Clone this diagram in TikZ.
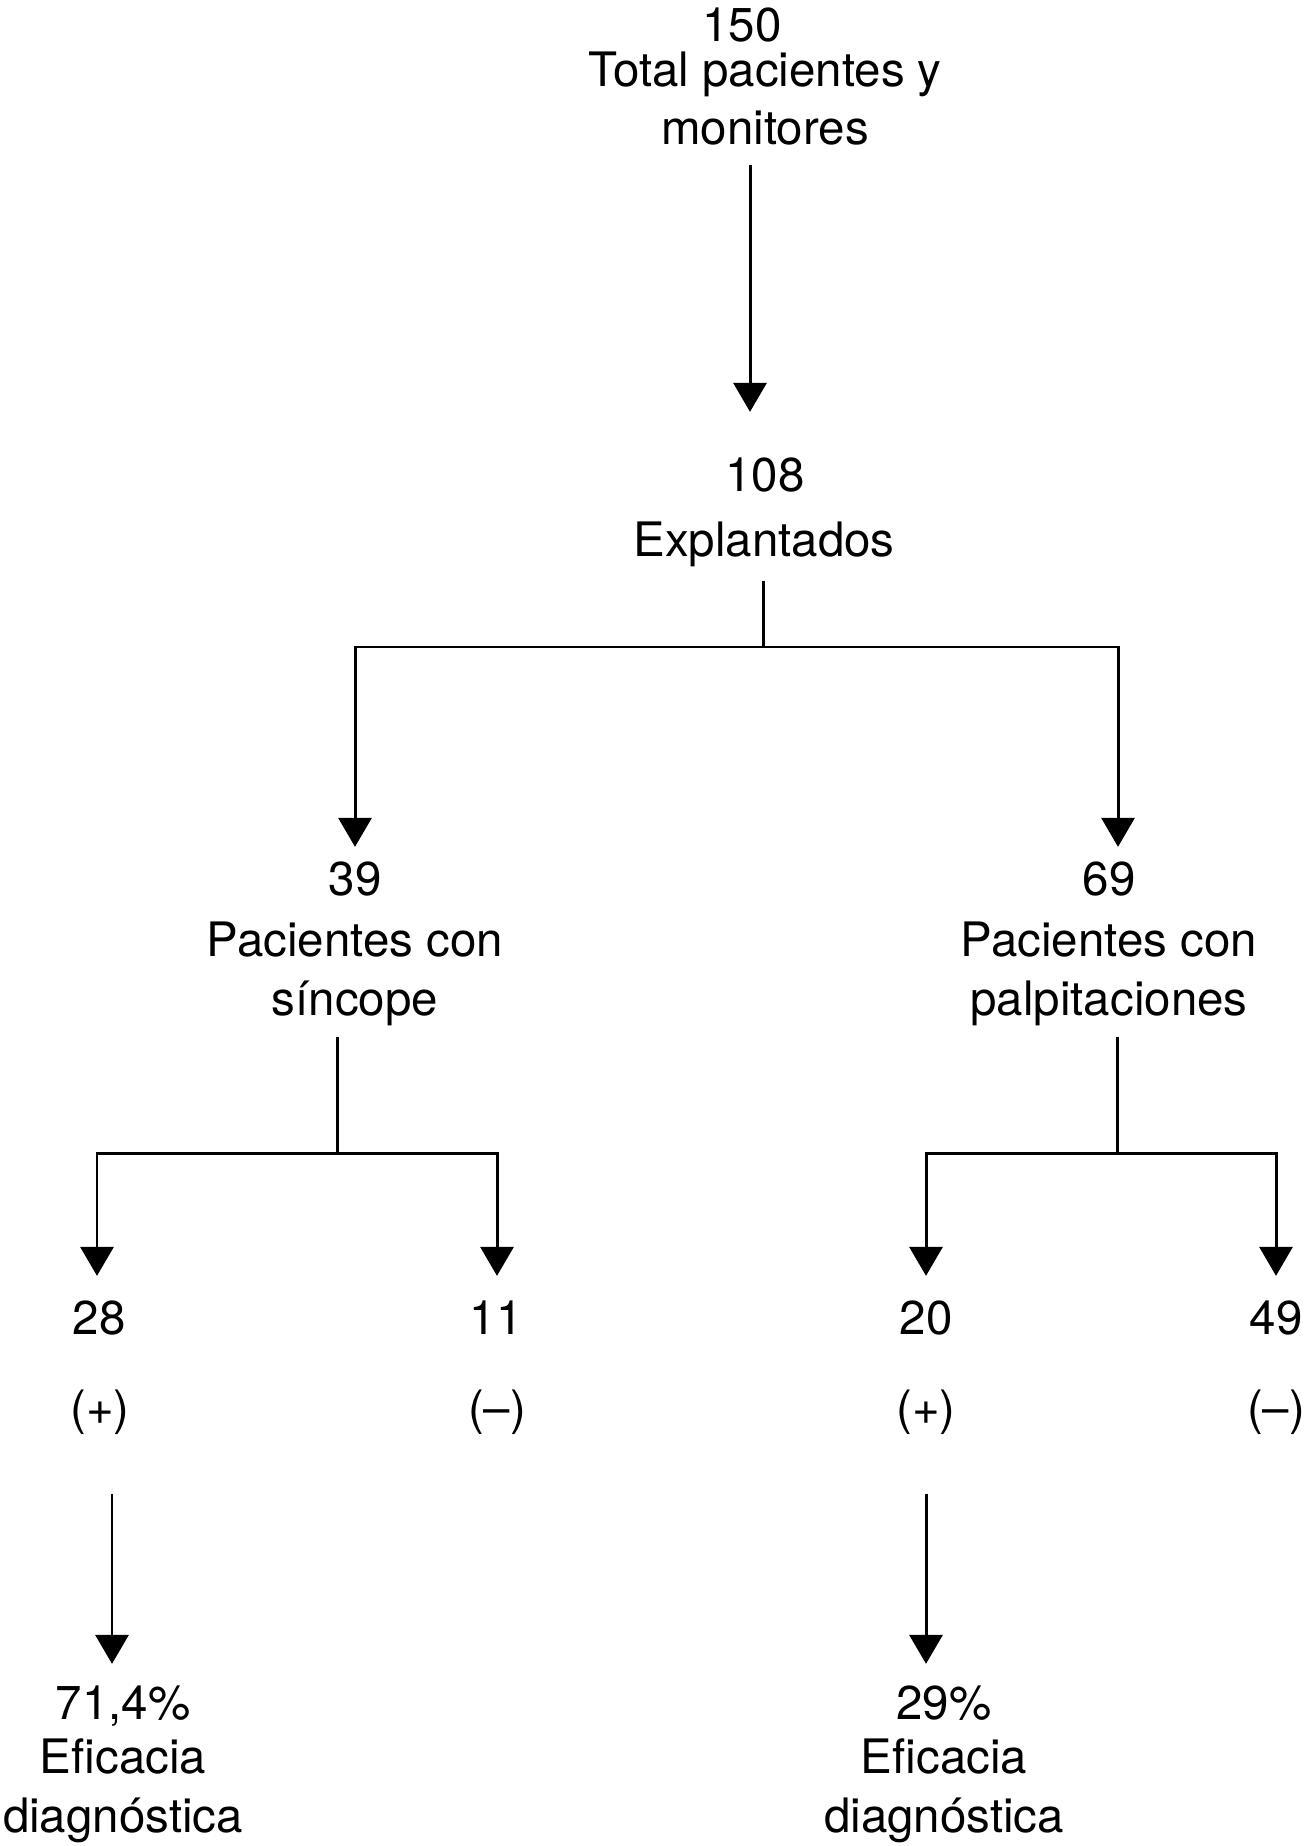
\documentclass[tikz,border=0pt]{standalone}
\usepackage{fontspec}
\setmainfont{TeX Gyre Heros}
\usetikzlibrary{arrows.meta,calc}
\begin{document}
\begin{tikzpicture}[x=0.01cm,y=-0.01cm,line width=0.85pt,
 >={Triangle[length=8.25pt,width=9.4pt]},
 txt/.style={inner sep=0pt,anchor=base,align=center,font=\fontsize{13.5}{16.5}\selectfont}]
 \useasboundingbox (0,0) rectangle (1306,1846);
 % numbers and labels (multi-line labels sit on their last line)
 \node[txt] (n150) at (742,42) {150};
 \node[txt] (tot) at (765,145) {Total pacientes y\\monitores};
 \node[txt] (n108) at (765,492) {108};
 \node[txt] (expl) at (764,557) {Explantados};
 \node[txt] (n39) at (355,895) {39};
 \node[txt] (sinc) at (355,1015) {Pacientes con\\síncope};
 \node[txt] (n69) at (1109,895) {69};
 \node[txt] (palp) at (1109,1015) {Pacientes con\\palpitaciones};
 \node[txt] (n28) at (99,1334) {28};
 \node[txt] (p28) at (100,1424) {(+)};
 \node[txt] (n11) at (496,1334) {11};
 \node[txt] (m11) at (497,1424) {(–)};
 \node[txt] (n20) at (926,1334) {20};
 \node[txt] (p20) at (926,1424) {(+)};
 \node[txt] (n49) at (1276,1334) {49};
 \node[txt] (m49) at (1276,1424) {(–)};
 \node[txt] (e28) at (123,1719) {71,4\%};
 \node[txt] (ef28) at (123,1832) {Eficacia\\diagnóstica};
 \node[txt] (e20) at (944,1719) {29\%};
 \node[txt] (ef20) at (944,1832) {Eficacia\\diagnóstica};
 % branch points
 \coordinate (j108) at (763,647);
 \coordinate (j39) at (337,1153);
 \coordinate (j69) at (1117,1153);
 % connectors
 \draw[->] ($(tot.south)+(-15,18)$) -- ($(n108.north)+(-15,-45)$);
 \draw ($(expl.south)+(-1,12)$) -- (j108);
 \draw[->] (j108) -| ($(n39.north)+(0,-13)$);
 \draw[->] (j108) -| ($(n69.north)+(9,-13)$);
 \draw ($(sinc.south)+(-18,10)$) -- (j39);
 \draw[->] (j39) -| ($(n28.north)+(-2,-23)$);
 \draw[->] (j39) -| ($(n11.north)+(1,-23)$);
 \draw ($(palp.south)+(8,10)$) -- (j69);
 \draw[->] (j69) -| ($(n20.north)+(0,-23)$);
 \draw[->] (j69) -| ($(n49.north)+(0,-23)$);
 \draw[->] ($(p28.south)+(12,58)$) -- ($(e28.north)+(-11,-20)$);
 \draw[->] ($(p20.south)+(0,58)$) -- ($(e20.north)+(-18,-20)$);
\end{tikzpicture}
\end{document}
